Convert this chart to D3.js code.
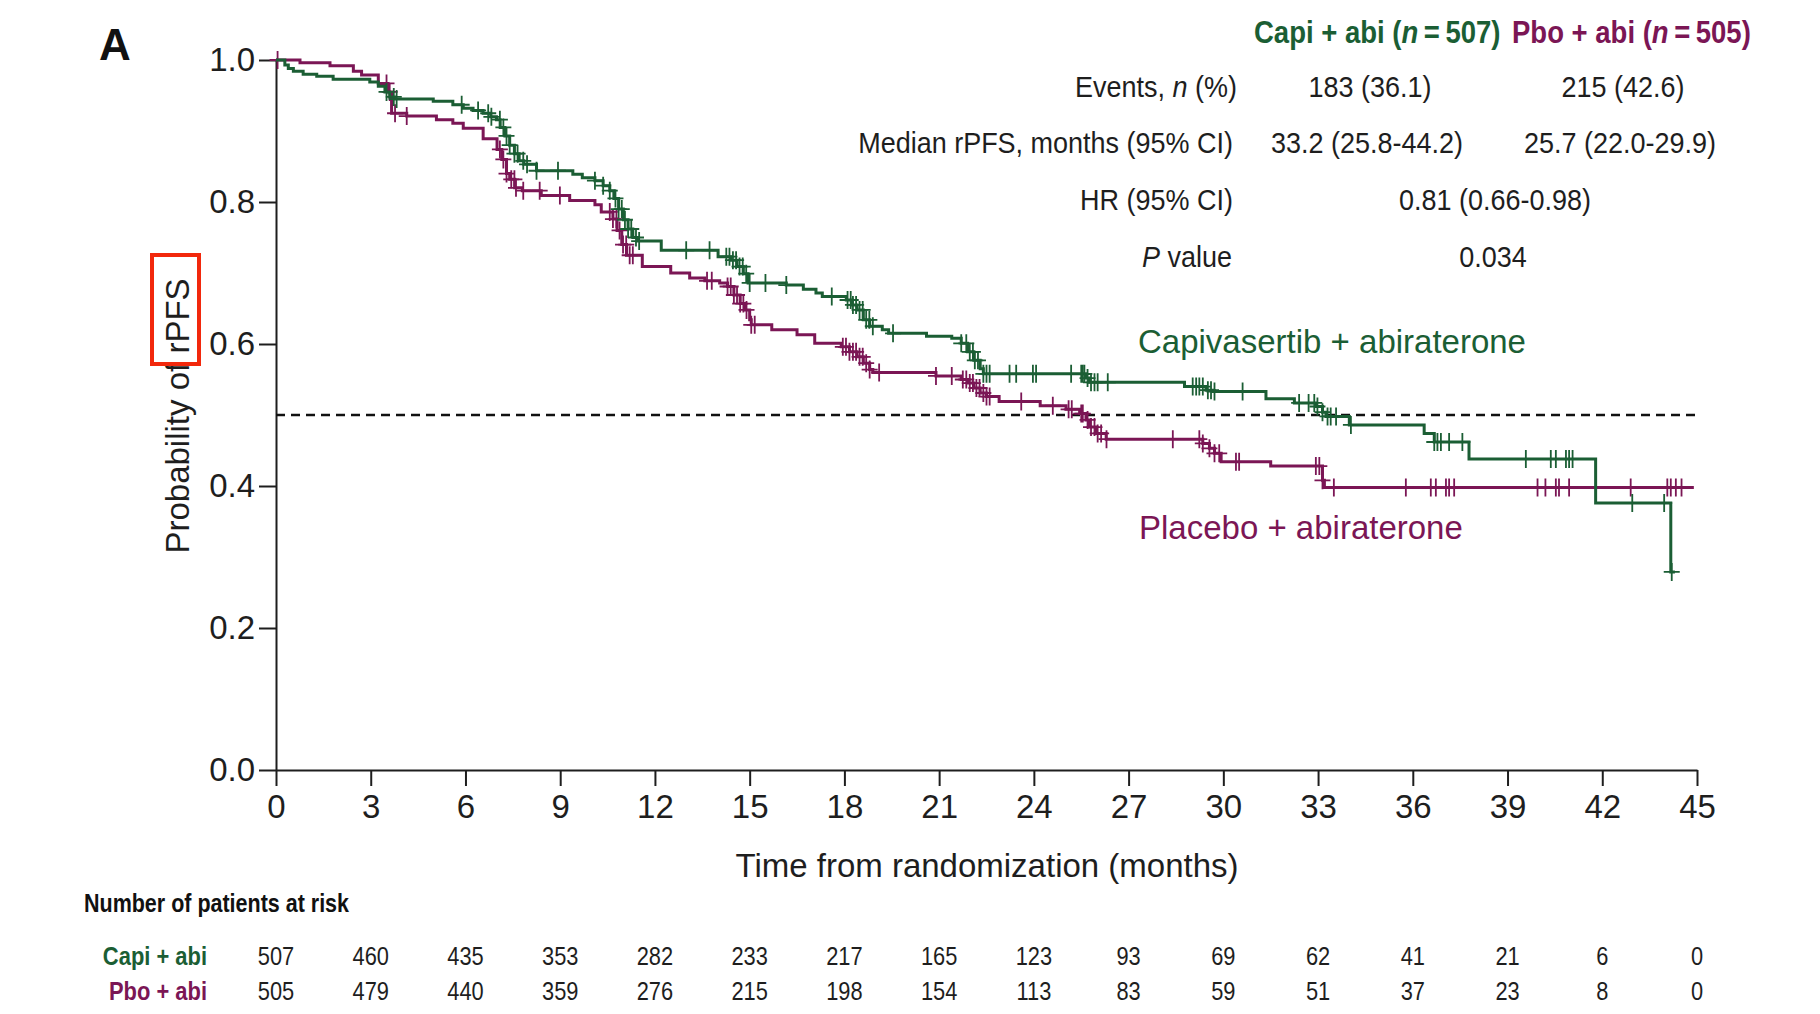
<!DOCTYPE html>
<meta charset="utf-8">
<script src="https://d3js.org/d3.v7.min.js"></script>
<style>
  body { margin: 0; background: #fff; }
  text { font-family: "Liberation Sans", Arial, sans-serif; }
</style>
<body>
<div id="chart"></div>
<script>

// Kaplan-Meier steps: time (months) and survival after the drop
var capiTimes = [0, 0.28, 0.39, 0.55, 0.86, 1.29, 1.81, 2.97, 3.24, 3.45, 3.6, 3.75, 4.98, 5.6, 5.93, 6.24, 6.56, 6.8, 6.98,
  7.1, 7.25, 7.4, 7.55, 7.7, 7.85, 8.25, 9.4, 9.7, 10.1, 10.36, 10.57, 10.7, 10.85, 11.0, 11.15, 11.3, 11.45, 12.2,
  14.0, 14.4, 14.6, 14.8, 14.95, 16.16, 16.7, 17.1, 17.3, 18.06, 18.25, 18.4, 18.6, 18.8, 19.2, 19.4, 20.6, 21.4,
  21.7, 21.9, 22.1, 22.3, 22.4, 25.65, 25.76, 28.77, 29.45, 29.66, 31.35, 32.25, 32.93, 33.14, 33.25, 33.99,
  36.36, 36.68, 37.78, 41.79, 44.17];
var capiSurv = [1, 0.993, 0.988, 0.984, 0.98, 0.977, 0.973, 0.969, 0.963, 0.955, 0.948, 0.945, 0.942, 0.937, 0.932, 0.929, 0.925, 0.92, 0.916,
  0.905, 0.893, 0.88, 0.868, 0.858, 0.853, 0.844, 0.839, 0.834, 0.83, 0.823, 0.816, 0.805, 0.79, 0.775, 0.762, 0.75, 0.745, 0.732,
  0.723, 0.718, 0.709, 0.699, 0.686, 0.683, 0.677, 0.672, 0.667, 0.662, 0.655, 0.648, 0.634, 0.625, 0.62, 0.615, 0.611, 0.608,
  0.601, 0.589, 0.577, 0.565, 0.558, 0.552, 0.546, 0.54, 0.535, 0.533, 0.523, 0.517, 0.512, 0.504, 0.498, 0.486,
  0.474, 0.462, 0.438, 0.376, 0.279];
var capiEnd = 44.3;
var capiCensor = [3.5, 3.73, 3.82, 5.88, 6.4, 6.72, 6.82, 7.09, 7.2, 7.3, 7.4, 7.55, 7.65, 7.83, 7.95, 8.25, 8.93, 10.1, 10.36, 10.57,
  10.75, 10.85, 10.95, 11.05, 11.15, 11.25, 11.4, 11.5, 12.99, 13.73, 14.26, 14.36, 14.47, 14.57, 14.68, 14.78, 14.89, 15.0,
  15.5, 16.16, 17.6, 18.1, 18.2, 18.27, 18.37, 18.48, 18.58, 18.69, 18.79, 18.9, 19.54, 21.7, 21.86, 21.97, 22.07, 22.13,
  22.23, 22.4, 22.5, 22.6, 23.23, 23.44, 23.97, 24.07, 25.18, 25.5, 25.55, 25.6, 25.7, 25.81, 25.92, 26.02, 26.34,
  29.03, 29.14, 29.24, 29.35, 29.51, 29.61, 29.72, 30.61, 32.4, 32.7, 32.88, 32.98, 33.14, 33.3, 33.4, 33.57, 34.04,
  36.68, 36.78, 36.89, 37.15, 37.57, 39.58, 40.37, 40.53, 40.85, 40.95, 41.06, 42.95, 43.96, 44.2];

var pboTimes = [0, 0.76, 1.71, 2.45, 2.71, 3.24, 3.55, 3.66, 4.14, 5.08, 5.6, 5.93, 6.56, 7.0, 7.15, 7.3, 7.4, 7.56, 7.8, 8.4,
  9.3, 10.1, 10.3, 10.67, 10.8, 10.95, 11.1, 11.6, 12.5, 13.1, 13.58, 14.05, 14.3, 14.5, 14.7, 14.84, 15.0, 15.05, 15.7,
  16.5, 17.06, 17.9, 18.16, 18.4, 18.6, 18.8, 18.9, 20.9, 21.7, 21.9, 22.1, 22.3, 22.5, 22.9, 24.2, 25.02, 25.45, 25.65,
  25.76, 25.97, 26.29, 29.35, 29.56, 29.72, 29.93, 31.5, 33.14, 33.2];
var pboSurv = [1, 0.996, 0.992, 0.984, 0.979, 0.967, 0.955, 0.925, 0.921, 0.916, 0.911, 0.904, 0.889, 0.874, 0.86, 0.84, 0.832, 0.82, 0.816, 0.809,
  0.802, 0.796, 0.786, 0.776, 0.76, 0.74, 0.725, 0.709, 0.7, 0.693, 0.689, 0.686, 0.681, 0.669, 0.657, 0.648, 0.634, 0.627, 0.62,
  0.613, 0.601, 0.596, 0.589, 0.582, 0.573, 0.564, 0.56, 0.555, 0.55, 0.545, 0.538, 0.531, 0.526, 0.519, 0.513, 0.508, 0.502, 0.493,
  0.483, 0.474, 0.466, 0.46, 0.453, 0.446, 0.434, 0.428, 0.408, 0.398];
var pboEnd = 44.9;
var pboCensor = [0.05, 3.5, 3.6, 3.77, 4.14, 7.09, 7.2, 7.3, 7.45, 7.55, 7.6, 7.83, 8.35, 8.99, 10.57, 10.67, 10.78, 10.88, 10.99,
  11.09, 11.2, 11.3, 13.65, 13.8, 14.3, 14.4, 14.5, 14.6, 14.7, 14.8, 14.9, 15.05, 15.16, 17.95, 18.05, 18.16, 18.27, 18.37,
  18.48, 18.58, 18.69, 18.8, 19.1, 20.9, 21.4, 21.75, 21.86, 21.97, 22.07, 22.18, 22.28, 22.4, 22.5, 22.6, 23.6,
  24.6, 25.1, 25.2, 25.5, 25.55, 25.7, 25.81, 25.92, 26.02, 26.13, 26.3, 28.4, 29.24, 29.35, 29.56, 29.72, 29.87, 30.4, 30.5,
  32.93, 33.04, 33.14, 33.5, 35.78, 36.57, 36.73, 37.05, 37.15, 37.31, 39.95, 40.2, 40.53, 40.63, 40.95, 42.9,
  44.06, 44.17, 44.33, 44.51];

// axis ticks and patients at risk
var xTicks = d3.range(0, 46, 3);
var yTicks = [0, 0.2, 0.4, 0.6, 0.8, 1.0];
var capiRisk = [507, 460, 435, 353, 282, 233, 217, 165, 123, 93, 69, 62, 41, 21, 6, 0];
var pboRisk = [505, 479, 440, 359, 276, 215, 198, 154, 113, 83, 59, 51, 37, 23, 8, 0];

var green = "#1b5e34", purple = "#7b1655", ink = "#1e1e1e";

var svg = d3.select("#chart").append("svg")
  .attr("width", 1820).attr("height", 1014);

var x = d3.scaleLinear().domain([0, 45]).range([276, 1697]);
var y = d3.scaleLinear().domain([0, 1]).range([770, 60]);

// text drawn with a horizontal squeeze, for the narrow type of the tables
function narrow(parts, px, py, size, anchor, fill, weight, sx) {
  var t = svg.append("text")
    .attr("transform", "translate(" + px + "," + py + ") scale(" + sx + ",1)")
    .attr("text-anchor", anchor)
    .attr("font-size", size)
    .attr("font-weight", weight)
    .attr("fill", fill);
  parts.forEach(function(p) {
    var s = t.append("tspan").text(typeof p === "string" ? p : p.t);
    if (typeof p !== "string") s.attr("font-style", "italic");
  });
  return t;
}

// axes
var yAxis = svg.append("g")
  .attr("transform", "translate(276,0)")
  .call(d3.axisLeft(y).tickValues(yTicks).tickSize(17).tickSizeOuter(0).tickPadding(4)
    .tickFormat(d3.format(".1f")));
var xAxis = svg.append("g")
  .attr("transform", "translate(0,770)")
  .call(d3.axisBottom(x).tickValues(xTicks).tickSize(16).tickSizeOuter(0).tickPadding(9));

[yAxis, xAxis].forEach(function(a) {
  a.select(".domain").attr("stroke", ink).attr("stroke-width", 2);
  a.selectAll(".tick line").attr("stroke", ink).attr("stroke-width", 2);
  a.selectAll(".tick text").attr("fill", ink).attr("font-size", 33)
    .attr("font-family", "Liberation Sans, Arial, sans-serif");
});

// median reference line
svg.append("line")
  .attr("x1", x(0)).attr("x2", x(45))
  .attr("y1", y(0.5)).attr("y2", y(0.5))
  .attr("stroke", "#111").attr("stroke-width", 2.5)
  .attr("stroke-dasharray", "9,6");

// survival curves
function drawArm(times, surv, end, censor, color) {
  var pts = times.map(function(t, i) { return [t, surv[i]]; });
  pts.push([end, surv[surv.length - 1]]);
  svg.append("path")
    .datum(pts)
    .attr("fill", "none")
    .attr("stroke", color)
    .attr("stroke-width", 3)
    .attr("d", d3.line()
      .x(function(d) { return x(d[0]); })
      .y(function(d) { return y(d[1]); })
      .curve(d3.curveStepAfter));

  var bis = d3.bisector(function(d) { return d; }).right;
  svg.append("g").selectAll("path")
    .data(censor)
    .enter().append("path")
    .attr("fill", "none")
    .attr("stroke", color)
    .attr("stroke-width", 1.8)
    .attr("d", function(t) {
      var v = surv[Math.max(0, bis(times, t) - 1)];
      var cx = x(t), cy = y(v);
      return "M" + cx + "," + (cy - 9) + "V" + (cy + 9) + "M" + (cx - 8) + "," + cy + "H" + (cx + 8);
    });
}
drawArm(pboTimes, pboSurv, pboEnd, pboCensor, purple);
drawArm(capiTimes, capiSurv, capiEnd, capiCensor, green);

// titles
svg.append("text")
  .attr("x", 99).attr("y", 60)
  .attr("font-size", 44).attr("font-weight", "bold").attr("fill", "#111")
  .text("A");

svg.append("text")
  .attr("transform", "translate(189,416) rotate(-90)")
  .attr("text-anchor", "middle")
  .attr("font-size", 33).attr("fill", ink)
  .text("Probability of rPFS");

svg.append("rect")
  .attr("x", 152).attr("y", 255).attr("width", 47).attr("height", 109)
  .attr("fill", "none").attr("stroke", "#f2280c").attr("stroke-width", 4);

svg.append("text")
  .attr("x", 987).attr("y", 877)
  .attr("text-anchor", "middle")
  .attr("font-size", 33).attr("fill", ink)
  .text("Time from randomization (months)");

// arm labels on the plot
svg.append("text")
  .attr("x", 1138).attr("y", 353)
  .attr("font-size", 33).attr("fill", green)
  .text("Capivasertib + abiraterone");
svg.append("text")
  .attr("x", 1139).attr("y", 539)
  .attr("font-size", 33).attr("fill", purple)
  .text("Placebo + abiraterone");

// summary table
narrow(["Capi + abi (", {t: "n"}, "\u2009=\u2009507)"], 1254, 43, 32, "start", green, "bold", 0.86);
narrow(["Pbo + abi (", {t: "n"}, "\u2009=\u2009505)"], 1512, 43, 32, "start", purple, "bold", 0.86);

var rowY = [97, 153, 210, 267];
narrow(["Events, ", {t: "n"}, " (%)"], 1237, rowY[0], 30, "end", ink, "normal", 0.9);
narrow(["Median rPFS, months (95% CI)"], 1233, rowY[1], 30, "end", ink, "normal", 0.9);
narrow(["HR (95% CI)"], 1233, rowY[2], 30, "end", ink, "normal", 0.9);
narrow([{t: "P"}, " value"], 1232, rowY[3], 30, "end", ink, "normal", 0.9);

narrow(["183 (36.1)"], 1370, rowY[0], 30, "middle", ink, "normal", 0.9);
narrow(["215 (42.6)"], 1623, rowY[0], 30, "middle", ink, "normal", 0.9);
narrow(["33.2 (25.8-44.2)"], 1367, rowY[1], 30, "middle", ink, "normal", 0.9);
narrow(["25.7 (22.0-29.9)"], 1620, rowY[1], 30, "middle", ink, "normal", 0.9);
narrow(["0.81 (0.66-0.98)"], 1495, rowY[2], 30, "middle", ink, "normal", 0.9);
narrow(["0.034"], 1493, rowY[3], 30, "middle", ink, "normal", 0.9);

// number at risk
narrow(["Number of patients at risk"], 84, 912, 25, "start", "#111", "bold", 0.86);
narrow(["Capi + abi"], 207, 965, 25.5, "end", green, "bold", 0.86);
narrow(["Pbo + abi"], 207, 1000, 25.5, "end", purple, "bold", 0.86);

svg.append("g").selectAll("g")
  .data(xTicks)
  .enter().each(function(t, i) {
    narrow([String(capiRisk[i])], x(t), 965, 26, "middle", ink, "normal", 0.84);
    narrow([String(pboRisk[i])], x(t), 1000, 26, "middle", ink, "normal", 0.84);
  });

</script>
</body>
